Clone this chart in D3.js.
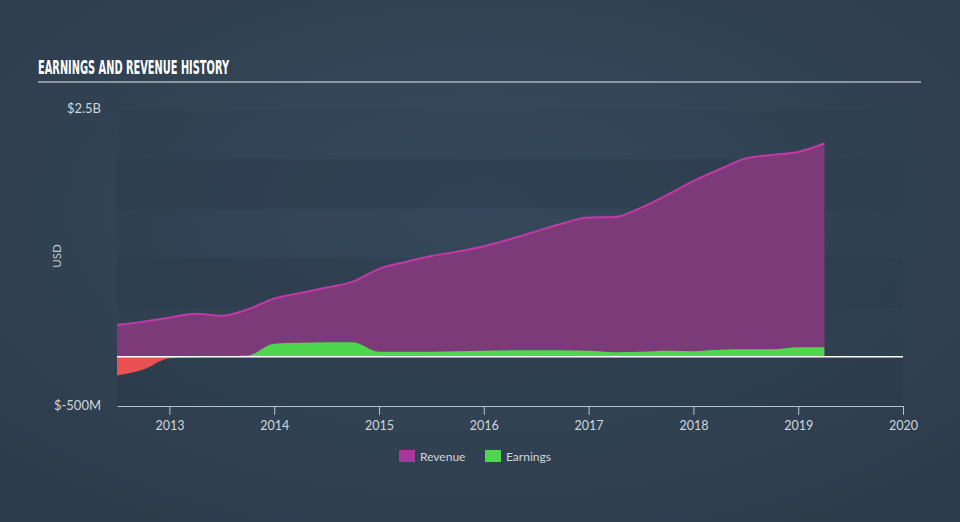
<!DOCTYPE html>
<html><head><meta charset="utf-8">
<script src="https://cdn.jsdelivr.net/npm/d3@7"></script>
<style>html,body{margin:0;padding:0;background:#344456;}svg{display:block}</style>
</head><body>
<svg id="c" width="960" height="522"></svg>
<script>
const quarters = [2012.5,2012.75,2013,2013.25,2013.5,2013.75,2014,2014.25,2014.5,2014.75,2015,2015.25,2015.5,2015.75,2016,2016.25,2016.5,2016.75,2017,2017.25,2017.5,2017.75,2018,2018.25,2018.5,2018.75,2019,2019.25];
const revenue = [323,355,395,435,415,480,590,645,700,760,890,960,1020,1065,1120,1190,1270,1350,1410,1415,1510,1640,1780,1900,2010,2045,2075,2160];
const earnings = [-190,-130,-15,-5,5,12,130,140,145,145,50,50,50,55,60,65,65,65,60,45,50,60,55,70,75,75,95,95];
const xTicks = [2013,2014,2015,2016,2017,2018,2019,2020];
const yLabels = ["$2.5B","$-500M"];
const seriesNames = ["Revenue","Earnings"];

const svg = d3.select("#c");
const W = 960, H = 522;
const defs = svg.append("defs");
const rg = defs.append("radialGradient").attr("id","bg").attr("cx","50%").attr("cy","40%").attr("r","75%");
rg.append("stop").attr("offset","0%").attr("stop-color","#384b5e");
rg.append("stop").attr("offset","100%").attr("stop-color","#2c3b4a");
svg.append("rect").attr("width",W).attr("height",H).attr("fill","url(#bg)");

const x = d3.scaleLinear().domain([2012.5,2020]).range([117,903]);
const y = d3.scaleLinear().domain([-500,2500]).range([406,110]);

// plot area tint
svg.append("rect").attr("x",x(2012.5)).attr("width",x(2020)-x(2012.5))
  .attr("y",y(2500)).attr("height",y(-500)-y(2500)).attr("fill","#2b3a4a").attr("opacity",0.15);
// bands
[[1500,2000],[500,1000],[-500,0]].forEach(b=>{
  svg.append("rect").attr("x",x(2012.5)).attr("width",x(2020)-x(2012.5))
    .attr("y",y(b[1])).attr("height",y(b[0])-y(b[1]))
    .attr("fill","#2b3a4a").attr("opacity",0.4);
});

// title
svg.append("text").attr("x",38).attr("y",74).text("EARNINGS AND REVENUE HISTORY")
  .attr("fill","#ffffff").attr("font-family","'Liberation Sans Narrow','DejaVu Sans Condensed',sans-serif")
  .attr("font-weight","bold").attr("font-size",19)
  .attr("textLength",191).attr("lengthAdjust","spacingAndGlyphs");
svg.append("line").attr("x1",38).attr("x2",921).attr("y1",82).attr("y2",82).attr("stroke","#aab3bd").attr("stroke-width",1.5);

const data = quarters.map((q,i)=>({q, r:revenue[i], e:earnings[i]}));
const curve = d3.curveMonotoneX;

// revenue
const areaR = d3.area().x(d=>x(d.q)).y0(y(0)).y1(d=>y(d.r)).curve(curve);
svg.append("path").datum(data).attr("d",areaR).attr("fill","#7d3a78");
svg.append("path").datum(data).attr("d",d3.line().x(d=>x(d.q)).y(d=>y(d.r)).curve(curve))
  .attr("fill","none").attr("stroke","#c13aa6").attr("stroke-width",2);

// earnings with clip
defs.append("clipPath").attr("id","pos").append("rect").attr("x",0).attr("y",0).attr("width",W).attr("height",y(0));
defs.append("clipPath").attr("id","neg").append("rect").attr("x",0).attr("y",y(0)).attr("width",W).attr("height",H-y(0));
const areaE = d3.area().x(d=>x(d.q)).y0(y(0)).y1(d=>y(d.e)).curve(curve);
svg.append("path").datum(data).attr("d",areaE).attr("fill","#4fd64f").attr("clip-path","url(#pos)");
svg.append("path").datum(data).attr("d",areaE).attr("fill","#ea5252").attr("clip-path","url(#neg)");

// zero line
svg.append("line").attr("x1",x(2012.5)).attr("x2",x(2020)).attr("y1",y(0)).attr("y2",y(0)).attr("stroke","#ffffff").attr("stroke-width",1.5);

// x axis
const ax = svg.append("g").attr("transform",`translate(0,${y(-500)})`)
  .call(d3.axisBottom(x).tickValues(xTicks).tickFormat(d3.format("d")).tickSize(9).tickSizeOuter(0));
ax.select(".domain").attr("stroke","#b8c2cc");
ax.selectAll(".tick line").attr("stroke","#b8c2cc");
ax.selectAll("text").attr("fill","#d0d6dc").attr("font-family","Lato, 'Open Sans', sans-serif").attr("font-size",12.5).attr("dy","0.95em");

// y labels
svg.append("text").attr("x",101).attr("y",y(2500)+3).attr("text-anchor","end").text(yLabels[0])
  .attr("fill","#d0d6dc").attr("font-family","Lato, 'Open Sans', sans-serif").attr("font-size",13);
svg.append("text").attr("x",101).attr("y",y(-500)+4).attr("text-anchor","end").text(yLabels[1])
  .attr("fill","#d0d6dc").attr("font-family","Lato, 'Open Sans', sans-serif").attr("font-size",13);
svg.append("text").attr("transform","translate(61,256) rotate(-90)").attr("text-anchor","middle").text("USD")
  .attr("fill","#c0c8d0").attr("font-family","Lato, 'Open Sans', sans-serif").attr("font-size",11.5);

// legend
const leg = [{n:seriesNames[0],c:"#a8379b",x:399},{n:seriesNames[1],c:"#4fd64f",x:485}];
leg.forEach(l=>{
  svg.append("rect").attr("x",l.x).attr("y",450).attr("width",16).attr("height",12).attr("fill",l.c);
  svg.append("text").attr("x",l.x+21).attr("y",460.5).text(l.n)
    .attr("fill","#d0d6dc").attr("font-family","Lato, 'Open Sans', sans-serif").attr("font-size",12);
});
</script>
</body></html>
